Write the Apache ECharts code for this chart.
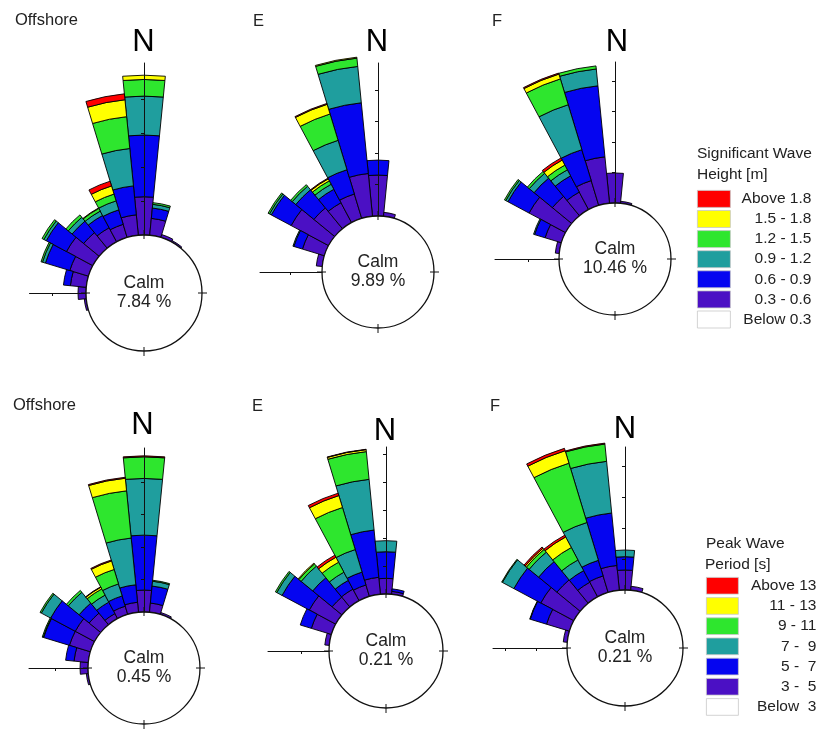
<!DOCTYPE html>
<html>
<head>
<meta charset="utf-8">
<script src="https://cdn.jsdelivr.net/npm/echarts@6/dist/echarts.min.js"></script>
<style>html,body{margin:0;padding:0;background:#fff}#chart{width:820px;height:733px}</style>
</head>
<body>
<div id="chart"></div>
<script>
// ---------- categories ----------
const directions = ['N','NbE','NNE','NEbN','NE','NEbE','ENE','EbN','E','EbS','ESE','SEbE','SE','SEbS','SSE','SbE',
  'S','SbW','SSW','SWbS','SW','SWbW','WSW','WbS','W','WbN','WNW','NWbW','NW','NWbN','NNW','NbW'];
// directions that carry values below (all other sectors are empty)
const shownDirs = ['WbS','W','WbN','WNW','NWbW','NW','NWbN','NNW','NbW','N','NbE','NNE','NEbN'];

const heightBins = ['0.3 - 0.6','0.6 - 0.9','0.9 - 1.2','1.2 - 1.5','1.5 - 1.8','Above 1.8'];
const heightLegend = ['Above 1.8','1.5 - 1.8','1.2 - 1.5','0.9 - 1.2','0.6 - 0.9','0.3 - 0.6','Below 0.3'];
const periodBins = ['3 -  5','5 -  7','7 -  9','9 - 11','11 - 13','Above 13'];
const periodLegend = ['Above 13','11 - 13','9 - 11','7 -  9','5 -  7','3 -  5','Below  3'];
const binColors = ['#4B10C4','#0505F0','#1F9E9E','#2EE62E','#FFFF00','#FF0000'];

const panelNames = ['Offshore','E','F','Offshore','E','F'];
const calmPercent = [7.84, 9.89, 10.46, 0.45, 0.21, 0.21];
const radialTickStep = 2;   // % between radial ticks (ticks are unlabelled)
const radialMax = 14;

// ---------- values (%), in shownDirs order ----------
// Significant wave height - Offshore
const hsOff_03_06 = [0.12,0.47,0.94,1.15,1.76,1.18,0.94,0.81,1.21,2.25,1.00,0.18,0.09];
const hsOff_06_09 = [0,0,0.41,1.50,1.35,0.88,0.82,0.89,1.71,3.63,0.61,0,0];
const hsOff_09_12 = [0,0,0,0.18,0.16,0.29,0.29,0.55,2.21,2.29,0.22,0,0];
const hsOff_12_15 = [0,0,0,0.09,0.12,0.18,0.18,0.42,1.88,0.98,0.10,0,0];
const hsOff_15_18 = [0,0,0,0,0,0,0.03,0.50,1.00,0.25,0,0,0];
const hsOff_above18 = [0,0,0,0,0,0,0,0.29,0.35,0,0,0,0];
// Significant wave height - E
const hsE_03_06 = [0,0,0.38,1.46,2.70,1.71,1.43,1.62,2.73,2.60,0.25,0,0];
const hsE_06_09 = [0,0,0,0.57,1.43,1.49,0.97,1.61,4.51,0.95,0,0,0];
const hsE_09_12 = [0,0,0,0.06,0.13,0.29,0.36,1.95,2.32,0,0,0,0];
const hsE_12_15 = [0,0,0,0,0.10,0.13,0.25,1.75,0.53,0,0,0,0];
const hsE_15_18 = [0,0,0,0,0,0,0.14,0.64,0.06,0,0,0,0];
const hsE_above18 = [0,0,0,0,0,0,0.05,0.06,0,0,0,0,0];
// Significant wave height - F
const hsF_03_06 = [0,0,0.26,1.12,2.72,1.64,1.30,1.70,3.06,1.97,0.13,0,0];
const hsF_06_09 = [0,0,0,0.72,1.57,1.55,1.21,2.12,4.68,0,0,0,0];
const hsF_09_12 = [0,0,0,0.07,0.16,0.41,0.45,3.08,1.11,0,0,0,0];
const hsF_12_15 = [0,0,0,0,0.10,0.16,0.35,1.77,0.20,0,0,0,0];
const hsF_15_18 = [0,0,0,0,0,0,0.37,0.33,0,0,0,0,0];
const hsF_above18 = [0,0,0,0,0,0,0.16,0.07,0,0,0,0,0];
// Peak wave period - Offshore
const tpOff_03_05 = [0.12,0.49,0.88,1.35,1.35,0.92,0.35,0.53,0.62,1.35,0.57,0.12,0];
const tpOff_05_07 = [0,0,0.52,1.66,1.72,0.80,0.80,0.66,1.08,3.38,1.05,0,0];
const tpOff_07_09 = [0,0,0,0.03,0.65,0.86,0.49,0.77,2.89,3.49,0.30,0,0];
const tpOff_09_11 = [0,0,0,0.06,0.09,0.15,0.43,0.93,2.92,1.33,0.06,0,0];
const tpOff_11_13 = [0,0,0,0,0,0,0.12,0.55,0.78,0,0,0,0];
const tpOff_above13 = [0,0,0,0,0,0,0.03,0.06,0.06,0.06,0,0,0];
// Peak wave period - E
const tpE_03_05 = [0,0,0.32,1.50,2.14,0.91,0.94,0.86,1.22,1.12,0.21,0,0];
const tpE_05_07 = [0,0,0,0.83,2.21,1.79,0.71,0.96,3.39,1.90,0.18,0,0];
const tpE_07_09 = [0,0,0,0,0.43,1.07,0.66,1.68,3.64,0.79,0,0,0];
const tpE_09_11 = [0,0,0,0,0.11,0.21,0.81,3.14,1.99,0,0,0,0];
const tpE_11_13 = [0,0,0,0,0,0.07,0.40,0.89,0.14,0,0,0,0];
const tpE_above13 = [0,0,0,0,0,0,0.17,0.18,0.03,0,0,0,0];
// Peak wave period - F
const tpF_03_05 = [0,0,0.26,1.55,2.42,1.94,1.07,1.12,1.61,1.29,0.26,0,0];
const tpF_05_07 = [0,0,0,1.10,1.97,1.53,0.85,1.05,3.40,0.86,0,0,0];
const tpF_07_09 = [0,0,0,0.03,0.84,0.79,0.78,2.55,3.35,0.43,0,0,0];
const tpF_09_11 = [0,0,0,0,0.05,0.23,0.91,4.00,1.12,0,0,0,0];
const tpF_11_13 = [0,0,0,0,0,0.10,0.77,0.84,0,0,0,0,0];
const tpF_above13 = [0,0,0,0,0,0.10,0.13,0.16,0.06,0,0,0,0];

const roseValues = [
  [hsOff_03_06,hsOff_06_09,hsOff_09_12,hsOff_12_15,hsOff_15_18,hsOff_above18],
  [hsE_03_06,hsE_06_09,hsE_09_12,hsE_12_15,hsE_15_18,hsE_above18],
  [hsF_03_06,hsF_06_09,hsF_09_12,hsF_12_15,hsF_15_18,hsF_above18],
  [tpOff_03_05,tpOff_05_07,tpOff_07_09,tpOff_09_11,tpOff_11_13,tpOff_above13],
  [tpE_03_05,tpE_05_07,tpE_07_09,tpE_09_11,tpE_11_13,tpE_above13],
  [tpF_03_05,tpF_05_07,tpF_07_09,tpF_09_11,tpF_11_13,tpF_above13]
];

// ---------- layout (pixels) ----------
const layouts = [
  {cx:144, cy:293, r0:58, d:34,   rN:230, rW:114.5, nx:143.5, ny:42.5,  px:15,  py:20.5},
  {cx:378, cy:272, r0:56, d:31.5, rN:209, rW:118,   nx:377,   ny:42.5,  px:253, py:21},
  {cx:615, cy:259, r0:56, d:30.5, rN:197, rW:120,   nx:617,   ny:42.5,  px:492, py:21},
  {cx:144, cy:668, r0:56, d:32.5, rN:220, rW:115,   nx:142.5, ny:425.5, px:13,  py:405},
  {cx:386, cy:651, r0:57, d:28,   rN:204, rW:118,   nx:385,   ny:431.5, px:252, py:406},
  {cx:625, cy:648, r0:58, d:31,   rN:201, rW:132,   nx:625,   ny:429,   px:490, py:406}
];

const FONT = 'Liberation Sans, Arial, Helvetica, sans-serif';
const INK = '#111';

const polar = [], angleAxis = [], radiusAxis = [], series = [], graphic = [];

function tickValues(max) {
  const v = [];
  for (let t = radialTickStep; t < max - 0.2 * radialTickStep; t += radialTickStep) v.push(t);
  return v;
}

layouts.forEach((L, i) => {
  const base = polar.length;
  const bins = i < 3 ? heightBins : periodBins;
  // data polar
  polar.push({center: [L.cx, L.cy], radius: [L.r0, L.r0 + radialMax * L.d / radialTickStep]});
  angleAxis.push({polarIndex: base, type: 'category', data: directions, startAngle: 90 + 360 / 64,
    clockwise: true, boundaryGap: true, show: false});
  radiusAxis.push({polarIndex: base, type: 'value', min: 0, max: radialMax, show: false});
  roseValues[i].forEach((arr, b) => {
    const full = directions.map(dn => {
      const k = shownDirs.indexOf(dn);
      const v = k >= 0 ? arr[k] : 0;
      return v > 0 ? v : null;
    });
    series.push({
      type: 'bar', coordinateSystem: 'polar', polarIndex: base, stack: 'rose' + i,
      name: bins[b], data: full, barCategoryGap: '0%', silent: true,
      itemStyle: {color: binColors[b], borderColor: '#000', borderWidth: 0.9}
    });
  });
  // N and W axes (two polars each so ticks cross the line)
  [[90, L.rN], [180, L.rW]].forEach(([ang, rEnd]) => {
    const max = (rEnd - L.r0) / L.d * radialTickStep;
    [false, true].forEach(inside => {
      const pi = polar.length;
      polar.push({center: [L.cx, L.cy], radius: [L.r0, rEnd]});
      angleAxis.push({polarIndex: pi, type: 'value', min: 0, max: 360, startAngle: ang, show: false});
      radiusAxis.push({polarIndex: pi, type: 'value', min: 0, max: max, interval: radialTickStep, z: 10,
        axisLine: {show: !inside, lineStyle: {color: INK, width: 1}},
        axisTick: {show: true, inside: inside, length: 3, customValues: tickValues(max), lineStyle: {color: INK, width: 1}},
        axisLabel: {show: false}, splitLine: {show: false}});
    });
  });
  // calm circle crossing marks at the four compass points
  const ci = polar.length;
  polar.push({center: [L.cx, L.cy], radius: [L.r0 - 4, L.r0 + 5]});
  angleAxis.push({polarIndex: ci, type: 'value', min: 0, max: 360, interval: 90, startAngle: 90, z: 10,
    axisLine: {show: false}, axisTick: {show: false}, axisLabel: {show: false},
    splitLine: {show: true, lineStyle: {color: INK, width: 1}}});
  radiusAxis.push({polarIndex: ci, type: 'value', show: false});
  // calm disc
  series.push({
    type: 'pie', center: [L.cx, L.cy], radius: [0, L.r0], silent: true, z: 3,
    data: [{value: 1, name: 'Calm'}],
    itemStyle: {color: '#fff', borderColor: INK, borderWidth: 1.3},
    label: {show: true, position: 'center', formatter: 'Calm\n' + calmPercent[i].toFixed(2) + ' %',
      fontFamily: FONT, fontSize: 17.5, lineHeight: 19, color: '#222'},
    labelLine: {show: false}, emphasis: {disabled: true}
  });
  // texts
  graphic.push({type: 'text', x: L.nx, y: L.ny, style: {text: 'N', font: '31px ' + FONT, fill: '#000', align: 'center', verticalAlign: 'middle'}});
  graphic.push({type: 'text', x: L.px, y: L.py, style: {text: panelNames[i], font: '16.5px ' + FONT, fill: '#222', align: 'left', verticalAlign: 'middle'}});
});

// legend-only series for the lowest class
series.push({type: 'bar', coordinateSystem: 'polar', polarIndex: 0, stack: 'rose0', name: 'Below 0.3', data: directions.map(() => null), itemStyle: {color: '#fff'}});
series.push({type: 'bar', coordinateSystem: 'polar', polarIndex: 18, stack: 'rose3', name: 'Below  3', data: directions.map(() => null), itemStyle: {color: '#fff'}});

graphic.push({type: 'text', x: 697, y: 154, style: {text: 'Significant Wave', font: '15.5px ' + FONT, fill: '#222', verticalAlign: 'middle'}});
graphic.push({type: 'text', x: 697, y: 175, style: {text: 'Height [m]', font: '15.5px ' + FONT, fill: '#222', verticalAlign: 'middle'}});
graphic.push({type: 'text', x: 706, y: 544, style: {text: 'Peak Wave', font: '15.5px ' + FONT, fill: '#222', verticalAlign: 'middle'}});
graphic.push({type: 'text', x: 705, y: 565, style: {text: 'Period [s]', font: '15.5px ' + FONT, fill: '#222', verticalAlign: 'middle'}});

function legendCfg(data, left, top, w, h, gap, textW) {
  return {
    data: data, orient: 'vertical', left: left, top: top, padding: 0,
    itemWidth: w, itemHeight: h, itemGap: gap, icon: 'rect', selectedMode: false,
    itemStyle: {borderColor: '#c8c8c8', borderWidth: 0.8},
    formatter: n => '{a|' + n + '}',
    textStyle: {fontFamily: FONT, fontSize: 15.5, color: '#222',
      rich: {a: {width: textW, align: 'right', fontFamily: FONT, fontSize: 15.5, color: '#222'}}}
  };
}

const chart = echarts.init(document.getElementById('chart'), null, {renderer: 'canvas'});
chart.setOption({
  backgroundColor: '#fff',
  animation: false,
  textStyle: {fontFamily: FONT},
  polar: polar, angleAxis: angleAxis, radiusAxis: radiusAxis,
  legend: [
    legendCfg(heightLegend, 697, 190, 33, 17, 2.3, 76),
    legendCfg(periodLegend, 706, 577, 32, 16.7, 2.7, 73)
  ],
  series: series,
  graphic: graphic
});
</script>
</body>
</html>
